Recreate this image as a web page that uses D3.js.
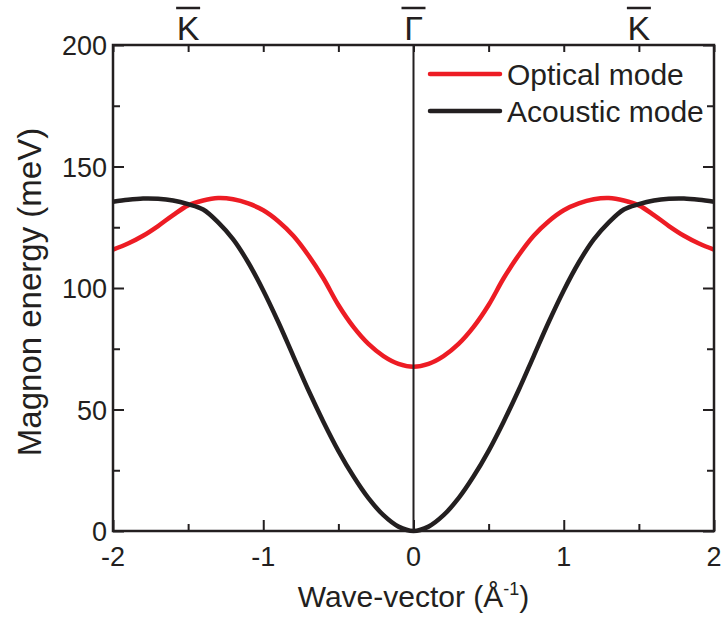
<!DOCTYPE html>
<html>
<head>
<meta charset="utf-8">
<script src="https://cdn.jsdelivr.net/npm/d3@7"></script>
<style>
  html, body { margin: 0; padding: 0; background: #fff; }
  svg { display: block; font-family: "Liberation Sans", Arial, sans-serif; }
</style>
</head>
<body>
<svg id="chart" width="723" height="632"></svg>
<script>
// Wave-vector samples (Å^-1), half branch 0..2; the bands are symmetric about Γ.
const kHalf = [0, 0.1, 0.2, 0.3, 0.4, 0.5, 0.6, 0.7, 0.8, 0.9, 1.0,
               1.1, 1.2, 1.3, 1.4, 1.5, 1.6, 1.7, 1.8, 1.9, 2.0];
// Magnon energies (meV)
const opticalHalf  = [67.6, 68.8, 72, 77, 84, 93, 104, 113.5, 121.5, 127.5, 132,
                      134.8, 136.5, 137, 136, 134, 130, 125.5, 121.5, 118.3, 115.8];
const acousticHalf = [0, 1.8, 6.5, 13.5, 22.5, 33, 45, 58, 72, 86, 99,
                      110.5, 120, 127, 132.3, 134.5, 136, 136.7, 136.8, 136.3, 135.5];

const xTicks = [-2, -1, 0, 1, 2];
const xMinor = [-1.5, -0.5, 0.5, 1.5];
const yTicks = [0, 50, 100, 150, 200];
const yMinor = [25, 75, 125, 175];
const symPoints = [{k: -1.5, label: "K"}, {k: 0, label: "\u0393"}, {k: 1.5, label: "K"}];

const series = [
  {name: "Optical mode",  color: "#ed1c24", half: opticalHalf},
  {name: "Acoustic mode", color: "#231f20", half: acousticHalf}
];

// mirror a half branch onto the full -2..2 range
function fullBranch(half) {
  const pts = [];
  for (let i = kHalf.length - 1; i > 0; i--) pts.push([-kHalf[i], half[i]]);
  for (let i = 0; i < kHalf.length; i++) pts.push([kHalf[i], half[i]]);
  return pts;
}

const svg = d3.select("#chart");
const pl = 113, pr = 714, pt = 45, pb = 531;
const x = d3.scaleLinear().domain([-2, 2]).range([pl, pr]);
const y = d3.scaleLinear().domain([0, 200]).range([pb, pt]);
const ink = "#231f20";

// curves
const line = d3.line().x(d => x(d[0])).y(d => y(d[1])).curve(d3.curveCatmullRom.alpha(0.5));
series.forEach(s => {
  svg.append("path").attr("d", line(fullBranch(s.half)))
    .attr("fill", "none").attr("stroke", s.color).attr("stroke-width", 4.5)
    .attr("stroke-linejoin", "round");
});

// Γ vertical line
svg.append("line").attr("x1", x(0)).attr("x2", x(0)).attr("y1", pt).attr("y2", pb)
  .attr("stroke", ink).attr("stroke-width", 2);

// axes (inward ticks)
const major = 11, minor = 7;
svg.append("g").attr("transform", `translate(0,${pb})`)
  .call(d3.axisTop(x).tickValues(xTicks).tickSize(major).tickFormat(""));
svg.append("g").attr("transform", `translate(0,${pb})`)
  .call(d3.axisTop(x).tickValues(xMinor).tickSize(minor).tickFormat(""));
svg.append("g").attr("transform", `translate(0,${pt})`)
  .call(d3.axisBottom(x).tickValues(xTicks.concat(xMinor)).tickSize(minor).tickFormat(""));
svg.append("g").attr("transform", `translate(${pl},0)`)
  .call(d3.axisRight(y).tickValues(yTicks).tickSize(major).tickFormat(""));
svg.append("g").attr("transform", `translate(${pl},0)`)
  .call(d3.axisRight(y).tickValues(yMinor).tickSize(minor).tickFormat(""));
svg.append("g").attr("transform", `translate(${pr},0)`)
  .call(d3.axisLeft(y).tickValues(yTicks).tickSize(major).tickFormat(""));
svg.append("g").attr("transform", `translate(${pr},0)`)
  .call(d3.axisLeft(y).tickValues(yMinor).tickSize(minor).tickFormat(""));
svg.selectAll(".domain").remove();
svg.selectAll(".tick line").attr("stroke", ink).attr("stroke-width", 2);

// frame
svg.append("rect").attr("x", pl).attr("y", pt).attr("width", pr - pl).attr("height", pb - pt)
  .attr("fill", "none").attr("stroke", ink).attr("stroke-width", 2.5);

// tick labels
svg.append("g").selectAll("text").data(xTicks).join("text")
  .attr("x", d => x(d)).attr("y", pb + 35).attr("text-anchor", "middle")
  .attr("font-size", 27).attr("fill", ink).text(d => d);
svg.append("g").selectAll("text").data(yTicks).join("text")
  .attr("x", pl - 6).attr("y", d => y(d) + 10).attr("text-anchor", "end")
  .attr("font-size", 27).attr("fill", ink).text(d => d);

// axis titles
const xt = svg.append("text").attr("x", x(0)).attr("y", 607).attr("text-anchor", "middle")
  .attr("font-size", 30).attr("fill", ink);
xt.append("tspan").text("Wave-vector (Å");
xt.append("tspan").attr("font-size", 18).attr("dy", -12).text("-1");
xt.append("tspan").attr("dy", 12).text(")");
svg.append("text").attr("transform", `translate(41,292) rotate(-90)`)
  .attr("text-anchor", "middle").attr("font-size", 33).attr("fill", ink)
  .text("Magnon energy (meV)");

// high-symmetry point labels with overbars
const sp = svg.append("g").selectAll("g").data(symPoints).join("g")
  .attr("transform", d => `translate(${x(d.k)},0)`);
sp.append("text").attr("x", 0).attr("y", 40).attr("text-anchor", "middle")
  .attr("font-size", 34).attr("fill", ink).text(d => d.label);
sp.append("line").attr("x1", -12).attr("x2", 12).attr("y1", 8).attr("y2", 8)
  .attr("stroke", ink).attr("stroke-width", 2.5);

// legend
const lg = svg.append("g").selectAll("g").data(series).join("g")
  .attr("transform", (d, i) => `translate(430,${74 + i * 37})`);
lg.append("line").attr("x1", 0).attr("x2", 70).attr("y1", 0).attr("y2", 0)
  .attr("stroke", d => d.color).attr("stroke-width", 4.5).attr("stroke-linecap", "round");
lg.append("text").attr("x", 77).attr("y", 11).attr("font-size", 30).attr("fill", ink)
  .text(d => d.name);
</script>
</body>
</html>
